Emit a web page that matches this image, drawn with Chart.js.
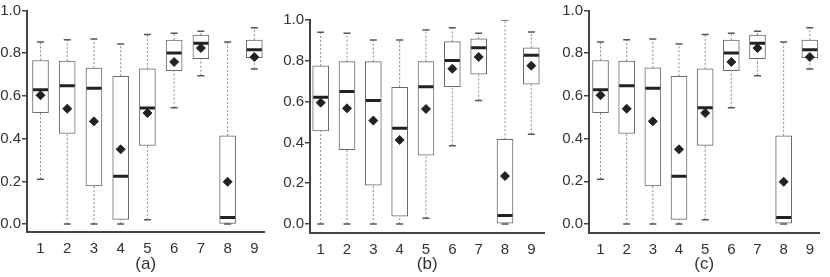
<!DOCTYPE html>
<html>
<head>
<meta charset="utf-8">
<script src="https://cdn.jsdelivr.net/npm/chart.js@4.4.1/dist/chart.umd.min.js"></script>
<style>
  body { margin: 0; background: #fff; }
  canvas { position: absolute; top: 0; }
</style>
</head>
<body>
<canvas id="chartA" width="275" height="277" style="left:0px"></canvas>
<canvas id="chartB" width="280" height="277" style="left:275px"></canvas>
<canvas id="chartC" width="275" height="277" style="left:555px"></canvas>
<script>
// categorias y ticks
const xLabels = ['1', '2', '3', '4', '5', '6', '7', '8', '9'];
const yTicks = [0, 0.2, 0.4, 0.6, 0.8, 1.0];

// panel (a)
const aLow  = [0.21, 0, 0, 0, 0.02, 0.545, 0.695, 0, 0.726];
const aQ1   = [0.522, 0.424, 0.179, 0.022, 0.368, 0.718, 0.774, 0, 0.779];
const aMed  = [0.629, 0.648, 0.636, 0.224, 0.544, 0.801, 0.847, 0.031, 0.816];
const aQ3   = [0.766, 0.763, 0.731, 0.692, 0.727, 0.861, 0.885, 0.413, 0.861];
const aHigh = [0.852, 0.863, 0.866, 0.843, 0.888, 0.894, 0.903, 0.852, 0.919];
const aMean = [0.603, 0.540, 0.481, 0.350, 0.520, 0.759, 0.824, 0.198, 0.782];

// panel (b)
const bLow  = [0, 0, 0, 0, 0.028, 0.384, 0.605, 0, 0.44];
const bQ1   = [0.456, 0.364, 0.191, 0.039, 0.338, 0.673, 0.735, 0, 0.686];
const bMed  = [0.621, 0.649, 0.606, 0.469, 0.673, 0.802, 0.864, 0.042, 0.827];
const bQ3   = [0.775, 0.796, 0.796, 0.670, 0.796, 0.894, 0.908, 0.415, 0.864];
const bHigh = [0.940, 0.935, 0.902, 0.902, 0.951, 0.962, 0.935, 1.0, 0.941];
const bMean = [0.595, 0.567, 0.507, 0.412, 0.564, 0.761, 0.819, 0.235, 0.776];

// panel (c) - mismos valores que (a)
const cLow = aLow, cQ1 = aQ1, cMed = aMed, cQ3 = aQ3, cHigh = aHigh, cMean = aMean;

const textColor = '#333';
const axisColor = '#444';
const fontFamily = "'Liberation Sans', Arial, sans-serif";

// Crear un panel de cajas
function boxPanel(id, title, low, q1, med, q3, high, mean, lay) {
  const pts = (arr) => arr.map((v, i) => ({ x: i + 1, y: v }));

  // bigotes: segmentos q1->low y q3->high separados por huecos
  const whiskers = [];
  xLabels.forEach((l, i) => {
    whiskers.push({ x: i + 1, y: low[i] }, { x: i + 1, y: q1[i] }, { x: i + 1, y: null });
    whiskers.push({ x: i + 1, y: q3[i] }, { x: i + 1, y: high[i] }, { x: i + 1, y: null });
  });

  new Chart(document.getElementById(id), {
    type: 'bar',
    data: {
      datasets: [
        {
          type: 'scatter',
          data: pts(mean),
          pointStyle: 'rectRot',
          pointRadius: 4.5,
          backgroundColor: '#222',
          borderColor: '#222',
          borderWidth: 1,
          order: 0
        },
        {
          type: 'scatter',
          data: pts(med),
          pointStyle: 'line',
          pointRadius: 7.5,
          borderColor: '#222',
          borderWidth: 3,
          order: 1
        },
        {
          type: 'scatter',
          data: pts(low).concat(pts(high)),
          pointStyle: 'line',
          pointRadius: 3.5,
          borderColor: '#555',
          borderWidth: 1.5,
          order: 2
        },
        {
          type: 'bar',
          data: xLabels.map((l, i) => ({ x: i + 1, y: [q1[i], q3[i]] })),
          backgroundColor: '#fff',
          borderColor: '#6a6a6a',
          borderWidth: 1,
          borderSkipped: false,
          barThickness: 16,
          order: 3
        },
        {
          type: 'line',
          data: whiskers,
          borderColor: '#8a8a8a',
          borderWidth: 1,
          borderDash: [2, 2],
          pointRadius: 0,
          spanGaps: false,
          order: 4
        }
      ]
    },
    options: {
      responsive: false,
      animation: false,
      layout: { padding: { top: lay.top, right: lay.right, left: 0, bottom: 0 } },
      plugins: { legend: { display: false }, tooltip: { enabled: false } },
      scales: {
        x: {
          type: 'linear',
          min: lay.xMin,
          max: lay.xMax,
          offset: false,
          afterBuildTicks: (scale) => { scale.ticks = xLabels.map((l, i) => ({ value: i + 1 })); },
          afterFit: (scale) => { scale.height = lay.xH; },
          ticks: {
            callback: (v, i) => xLabels[i],
            color: textColor,
            font: { family: fontFamily, size: 15 },
            padding: 0,
            maxRotation: 0,
            autoSkip: false
          },
          grid: { display: false },
          border: { color: axisColor, width: 2 },
          title: {
            display: true,
            text: title,
            color: textColor,
            font: { family: fontFamily, size: 17 },
            padding: { top: 0, bottom: 2 }
          }
        },
        y: {
          min: lay.yMin,
          max: 1.0,
          afterBuildTicks: (scale) => { scale.ticks = yTicks.map(v => ({ value: v })); },
          afterFit: (scale) => { scale.width = lay.yW; },
          ticks: {
            callback: (v) => v.toFixed(1),
            color: textColor,
            font: { family: fontFamily, size: 15 },
            padding: 1
          },
          grid: { drawOnChartArea: false, drawTicks: true, tickLength: 5, color: axisColor, lineWidth: 1.5 },
          border: { color: axisColor, width: 2 }
        }
      }
    }
  });
}

boxPanel('chartA', '(a)', aLow, aQ1, aMed, aQ3, aHigh, aMean,
  { top: 10, right: 7, xH: 45, yW: 27, xMin: 0.495, xMax: 9.38, yMin: -0.037 });
boxPanel('chartB', '(b)', bLow, bQ1, bMed, bQ3, bHigh, bMean,
  { top: 20, right: 3, xH: 44, yW: 35, xMin: 0.595, xMax: 9.5, yMin: -0.044 });
boxPanel('chartC', '(c)', cLow, cQ1, cMed, cQ3, cHigh, cMean,
  { top: 10, right: 1, xH: 44, yW: 34, xMin: 0.56, xMax: 9.37, yMin: -0.042 });
</script>
</body>
</html>
